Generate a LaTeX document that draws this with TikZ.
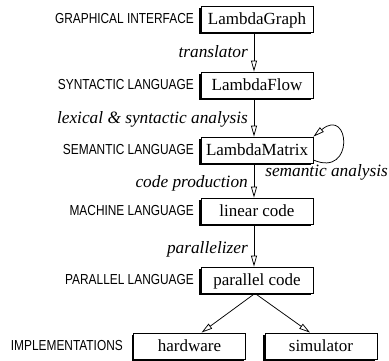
\documentclass[tikz,border=0pt]{standalone}
\usepackage{fontspec}
\setmainfont{Liberation Serif}
\newfontfamily\capsfont[FakeStretch=0.82]{Liberation Sans}
\usetikzlibrary{arrows.meta,shadows}

\begin{document}
\begin{tikzpicture}[x=1pt,y=-1pt,
  stage/.style={draw, line width=0.8pt, fill=white,
    minimum width=112pt, minimum height=26pt, inner sep=0pt,
    text height=11.5pt, text depth=0pt,
    font=\fontsize{17}{20}\selectfont,
    general shadow={fill=black, shadow xshift=-1.6pt, shadow yshift=-1.6pt}},
  level/.style={anchor=east, inner sep=0pt,
    font=\capsfont\fontsize{14.5}{17}\selectfont},
  passlabel/.style={anchor=base east, inner sep=0pt,
    font=\itshape\fontsize{17.3}{20}\selectfont},
  flow/.style={line width=0.75pt,
    -{Triangle[open, length=11pt, width=6pt]}},
]
\useasboundingbox (0,0) rectangle (389,361);

% compilation stages
\node[stage] (lg) at (257,19)    {LambdaGraph};
\node[stage] (lf) at (257,85)    {LambdaFlow};
\node[stage] (lm) at (257,150)   {LambdaMatrix};
\node[stage] (lc) at (257,211)   {linear code};
\node[stage] (pc) at (257,280)   {parallel code};
\node[stage] (hw) at (189.5,346) {hardware};
\node[stage] (sm) at (321,346)   {simulator};

% language levels
\node[level] (l1) at (194,19)  {GRAPHICAL INTERFACE};
\node[level] (l2) at (194,85)  {SYNTACTIC LANGUAGE};
\node[level] (l3) at (194,150) {SEMANTIC LANGUAGE};
\node[level] (l4) at (194,211) {MACHINE LANGUAGE};
\node[level] (l5) at (194,280) {PARALLEL LANGUAGE};
\node[level] (l6) at (123,346) {IMPLEMENTATIONS};

% transformations between stages
\draw[flow] ([xshift=-3pt]lg.south) -- ([xshift=-3pt]lf.north);
\draw[flow] ([xshift=-3pt]lf.south) -- ([xshift=-3pt]lm.north);
\draw[flow] ([xshift=-3pt]lm.south) -- ([xshift=-3pt]lc.north);
\draw[flow] ([xshift=-3pt]lc.south) -- ([xshift=-3pt]pc.north);
\draw[flow] ([xshift=-2pt]pc.south) -- ([xshift=12pt]hw.north);
\draw[flow] ([xshift=-2pt]pc.south) -- ([xshift=-11pt]sm.north);
\draw[flow] ([yshift=-10pt]lm.east) .. controls (355,178) and (350,106) .. (lm.north east);

\node[passlabel] (t1) at (248,58)  {translator};
\node[passlabel] (t2) at (248,124) {lexical \& syntactic analysis};
\node[passlabel] (t3) at (248,188) {code production};
\node[passlabel] (t4) at (248,253) {parallelizer};
\node[passlabel] (t5) at (388,177) {semantic analysis};
\end{tikzpicture}
\end{document}
